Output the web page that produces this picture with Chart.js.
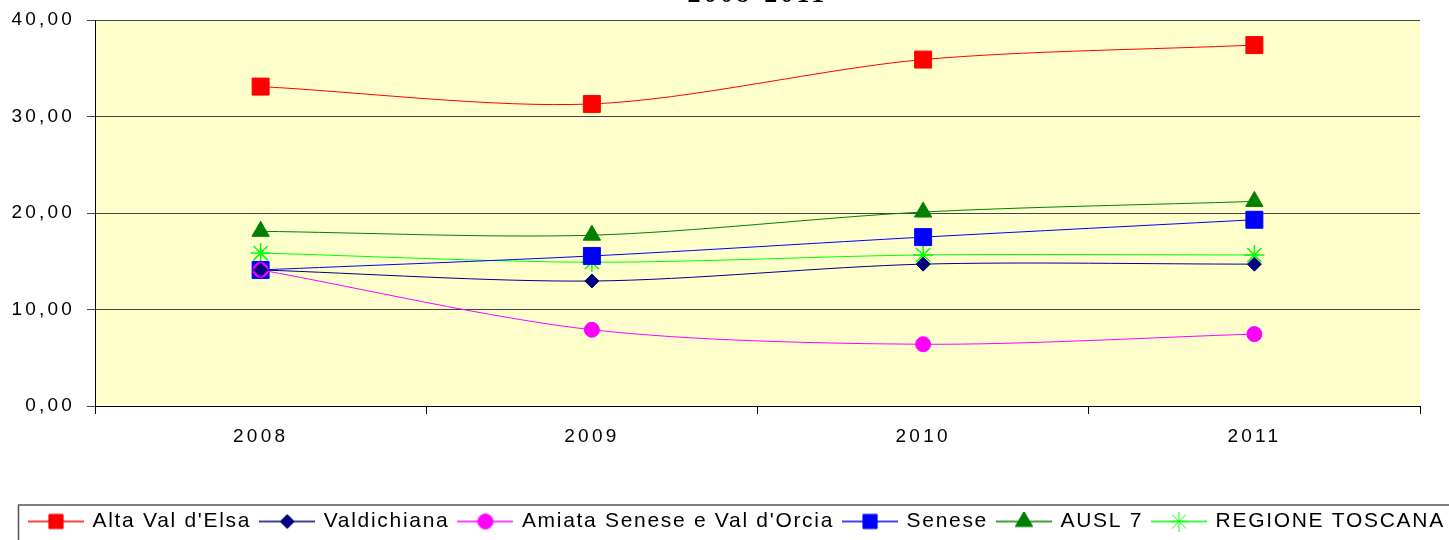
<!DOCTYPE html>
<html>
<head>
<meta charset="utf-8">
<script src="https://cdn.jsdelivr.net/npm/chart.js@4"></script>
<style>
html, body { margin: 0; padding: 0; background: #fff; overflow: hidden; width: 1449px; height: 540px; }
#wrap { position: relative; top: -20px; width: 1600px; height: 562px; }
</style>
</head>
<body>
<div id="wrap"><canvas id="chart" width="1600" height="562"></canvas></div>
<script>
const years = ['2008', '2009', '2010', '2011'];
const altaValdelsa = [33.1, 31.3, 35.9, 37.4];
const valdichiana = [14.1, 12.95, 14.7, 14.7];
const amiata = [14.1, 7.9, 6.4, 7.45];
const senese = [14.1, 15.55, 17.5, 19.3];
const ausl7 = [18.1, 17.7, 20.1, 21.2];
const regione = [15.85, 14.9, 15.65, 15.65];
const yTicks = [0, 10, 20, 30, 40];

const FONT = 'Liberation Sans, Arial, sans-serif';
const AXIS_SPACING = '3.2px';
const LEGEND_SPACING = '1.7px';

function series(label, data, color, style, radius) {
    return {
        label, data,
        borderColor: color,
        backgroundColor: color,
        borderWidth: 1,
        tension: 0.3,
        pointStyle: style,
        pointRadius: radius,
        pointBorderWidth: style === 'star' ? 1.5 : 1,
        pointBackgroundColor: color,
        pointBorderColor: color
    };
}

const datasets = [
    series("Alta Val d'Elsa", altaValdelsa, '#FF0000', 'rect', 12),
    series('Valdichiana', valdichiana, '#000080', 'rectRot', 7),
    series("Amiata Senese e Val d'Orcia", amiata, '#FF00FF', 'circle', 7.5),
    series('Senese', senese, '#0000FF', 'rect', 12),
    series('AUSL 7', ausl7, '#008000', 'triangle', 10),
    series('REGIONE TOSCANA', regione, '#00FF00', 'star', 10)
];

// little line+marker picture for each legend entry
function legendIcon(ds) {
    const c = document.createElement('canvas');
    c.width = 56; c.height = 20;
    const g = c.getContext('2d');
    g.strokeStyle = ds.borderColor;
    g.lineWidth = 1.5;
    g.beginPath(); g.moveTo(0, 10); g.lineTo(56, 10); g.stroke();
    g.fillStyle = ds.backgroundColor;
    g.strokeStyle = ds.borderColor;
    g.lineWidth = 1;
    Chart.helpers.drawPoint(g, { pointStyle: ds.pointStyle, radius: Math.min(ds.pointRadius, 10), rotation: 0, borderWidth: 1 }, 28, 10);
    return c;
}

// wider letters like the original; legend gets its own spacing
const spacing = {
    id: 'spacing',
    beforeUpdate(chart) {
        chart.ctx.letterSpacing = AXIS_SPACING;
        const l = chart.legend;
        if (l && !l._spaced) {
            l._spaced = true;
            const fit = l.fit.bind(l), draw = l.draw.bind(l);
            l.fit = function () { chart.ctx.letterSpacing = LEGEND_SPACING; fit(); chart.ctx.letterSpacing = AXIS_SPACING; };
            l.draw = function () { chart.ctx.letterSpacing = LEGEND_SPACING; draw(); chart.ctx.letterSpacing = AXIS_SPACING; };
        }
    },
    beforeLayout(chart) { chart.ctx.letterSpacing = AXIS_SPACING; },
    afterLayout(chart) {
        // legend box starts a bit to the right of the axis labels
        chart.legend.left = 20;
    },
    beforeDraw(chart) { chart.ctx.letterSpacing = AXIS_SPACING; }
};

const plotBg = {
    id: 'plotBg',
    beforeDraw(chart) {
        const { ctx, chartArea: a } = chart;
        ctx.save();
        ctx.fillStyle = '#FFFFCC';
        ctx.fillRect(a.left, a.top, a.right - a.left, a.bottom - a.top);
        ctx.restore();
    }
};

const legendFrame = {
    id: 'legendFrame',
    afterDraw(chart) {
        const { ctx, legend } = chart;
        ctx.save();
        ctx.strokeStyle = '#555';
        ctx.lineWidth = 1.5;
        ctx.strokeRect(legend.left - 1.5, legend.top + 4, chart.width + 20, 80);
        ctx.restore();
    }
};

new Chart(document.getElementById('chart'), {
    type: 'line',
    data: { labels: years, datasets },
    plugins: [spacing, plotBg, legendFrame],
    options: {
        responsive: false,
        animation: false,
        devicePixelRatio: 1,
        layout: { padding: { left: 5, right: 0, top: 0, bottom: 0 } },
        plugins: {
            title: {
                display: true,
                text: '2008-2011',
                fullSize: false,
                color: '#000',
                font: { family: 'Liberation Serif, serif', size: 26, weight: 'bold', lineHeight: 1.15 },
                padding: { top: 0, bottom: 10.1 }
            },
            legend: {
                position: 'bottom',
                align: 'start',
                labels: {
                    usePointStyle: true,
                    pointStyleWidth: 52,
                    padding: 10,
                    color: '#000',
                    font: { family: FONT, size: 21 },
                    generateLabels: chart => chart.data.datasets.map((ds, i) => ({
                        text: ds.label,
                        pointStyle: legendIcon(ds),
                        datasetIndex: i,
                        hidden: false,
                        fontColor: '#000',
                        lineWidth: 0
                    }))
                }
            },
            tooltip: { enabled: false }
        },
        scales: {
            x: {
                offset: true,
                afterFit(scale) { scale.height = 95; },
                grid: { offset: true, drawOnChartArea: false, drawTicks: true, tickLength: 8, color: '#000' },
                border: { color: '#000', width: 1 },
                ticks: { color: '#000', font: { family: FONT, size: 19 }, padding: 11, maxRotation: 0 }
            },
            y: {
                min: 0, max: 40,
                afterFit(scale) { scale.width = 90; },
                afterBuildTicks(scale) { scale.ticks = yTicks.map(v => ({ value: v })); },
                grid: { color: '#444', tickLength: 8, drawTicks: true },
                border: { color: '#000', width: 1 },
                ticks: {
                    color: '#000',
                    font: { family: FONT, size: 19 },
                    padding: 12,
                    callback: v => v.toFixed(2).replace('.', ',')
                }
            },
            // empty space right of the plot, so the legend can run past the page edge
            spacer: {
                position: 'right',
                min: 0, max: 40,
                afterFit(scale) { scale.width = 180; },
                grid: { display: false, drawTicks: false },
                border: { display: false },
                ticks: { display: false }
            }
        }
    }
});
</script>
</body>
</html>
